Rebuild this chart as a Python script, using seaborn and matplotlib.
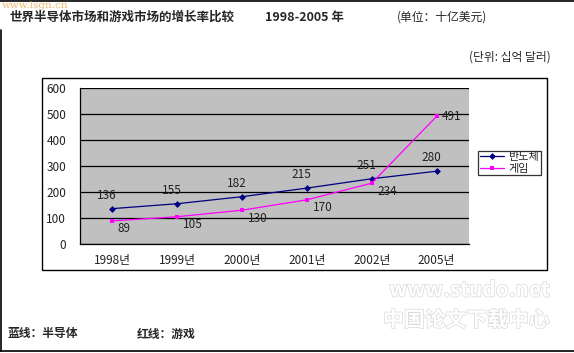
import numpy as np
import pandas as pd
import matplotlib
matplotlib.use("Agg")
import matplotlib.pyplot as plt
import matplotlib.patheffects as pe
from matplotlib.lines import Line2D
from matplotlib.patches import Rectangle
import seaborn as sns

years = ["1998년", "1999년", "2000년", "2001년", "2002년", "2005년"]
semi = [136, 155, 182, 215, 251, 280]
game = [89, 105, 130, 170, 234, 491]
series_names = ["반도체", "게임"]

sns.set_style("white")
plt.rcParams["font.family"] = ["Noto Sans CJK KR", "Noto Sans CJK SC", "DejaVu Sans"]

df = pd.DataFrame({
    "year": years * 2,
    "value": semi + game,
    "series": [series_names[0]] * len(years) + [series_names[1]] * len(years),
})

W, H = 574, 353
fig = plt.figure(figsize=(W / 100, H / 100), dpi=100)

def fx(px):
    return px / W

def fy(py):
    return 1 - py / H

# outer frame lines
fig.add_artist(Line2D([0, 1], [fy(1), fy(1)], color="black", lw=1.2))
fig.add_artist(Line2D([fx(1), fx(1)], [fy(30), fy(351)], color="black", lw=1.2))
fig.add_artist(Line2D([0, 1], [fy(350.5), fy(350.5)], color="black", lw=1.2))

# inner chart box
fig.add_artist(Rectangle((fx(42), fy(270)), fx(547) - fx(42), fy(78) - fy(270),
                         fill=False, edgecolor="black", lw=1.0))

ax = fig.add_axes([fx(80), fy(244), fx(469) - fx(80), fy(88) - fy(244)])
ax.set_facecolor("#C0C0C0")

sns.lineplot(data=df, x="year", y="value", hue="series", style="series",
             palette=["#000080", "#FF00FF"], markers=["D", "s"], dashes=False,
             markersize=3.5, markeredgewidth=0, linewidth=0.9, ax=ax, sort=False)

ax.set_ylim(0, 600)
ax.set_xlim(-0.5, 5.5)
ax.set_yticks(range(0, 601, 100))
ax.yaxis.grid(True, color="black", lw=0.9)
ax.set_axisbelow(True)
for side in ["top", "right"]:
    ax.spines[side].set_visible(False)
for side in ["left", "bottom"]:
    ax.spines[side].set_color("black")
    ax.spines[side].set_linewidth(0.9)
ax.set_xlabel("")
ax.set_ylabel("")
ax.tick_params(axis="both", labelsize=8.5, length=0, colors="#222222")
ax.tick_params(axis="y", pad=10)
ax.tick_params(axis="x", pad=7)
ax.set_xticks(np.arange(-0.5, 5.6, 1), minor=True)
ax.tick_params(axis="x", which="minor", length=4, direction="out", color="black")

for i, v in enumerate(semi):
    ax.annotate(str(v), (i, v), xytext=(-4, 5), textcoords="offset points",
                ha="center", va="bottom", fontsize=8.5, color="#222222")
for i, v in enumerate(game):
    ax.annotate(str(v), (i, v), xytext=(4, -1 if i < 5 else 0), textcoords="offset points",
                ha="left", va="top" if i < 5 else "center", fontsize=8.5, color="#222222")

leg = ax.legend(loc="center left", bbox_to_anchor=(1.023, 0.52), frameon=True,
                fancybox=False, edgecolor="black", fontsize=8, handlelength=2.2,
                borderpad=0.15, labelspacing=0.12, handletextpad=0.4, borderaxespad=0)
leg.get_frame().set_linewidth(0.9)

cn = ["Noto Sans CJK SC", "DejaVu Sans"]
fig.text(fx(10), fy(17), "世界半导体市场和游戏市场的增长率比较", fontsize=9,
         fontweight="bold", va="center", family=cn)
fig.text(fx(265), fy(17), "1998-2005 年", fontsize=9, fontweight="bold",
         va="center", family=cn)
fig.text(fx(397), fy(17), "(单位：十亿美元)", fontsize=8.5, va="center", family=cn)
fig.text(fx(551), fy(57), "(단위: 십억 달러)", fontsize=8.5, va="center", ha="right",
         family=["Noto Sans CJK KR", "DejaVu Sans"])
fig.text(fx(8), fy(334), "蓝线：半导体", fontsize=8.5, fontweight="bold", va="center", family=cn)
fig.text(fx(137), fy(334), "红线：游戏", fontsize=8.5, fontweight="bold", va="center", family=cn)

# watermarks
fig.text(fx(2), fy(5), "www.lsgn.cn", fontsize=7.5, color="#E8A040", alpha=0.75,
         va="center", family=["DejaVu Serif"])
stroke = [pe.withStroke(linewidth=1.0, foreground="#DADADA")]
fig.text(fx(550), fy(290), "www.studo.net", fontsize=15, color="white", ha="right",
         va="center", fontweight="bold", path_effects=stroke)
fig.text(fx(550), fy(320), "中国论文下载中心", fontsize=15, color="white", ha="right",
         va="center", fontweight="bold", family=cn, path_effects=stroke)

fig.savefig("out.png", dpi=100, facecolor="white")
